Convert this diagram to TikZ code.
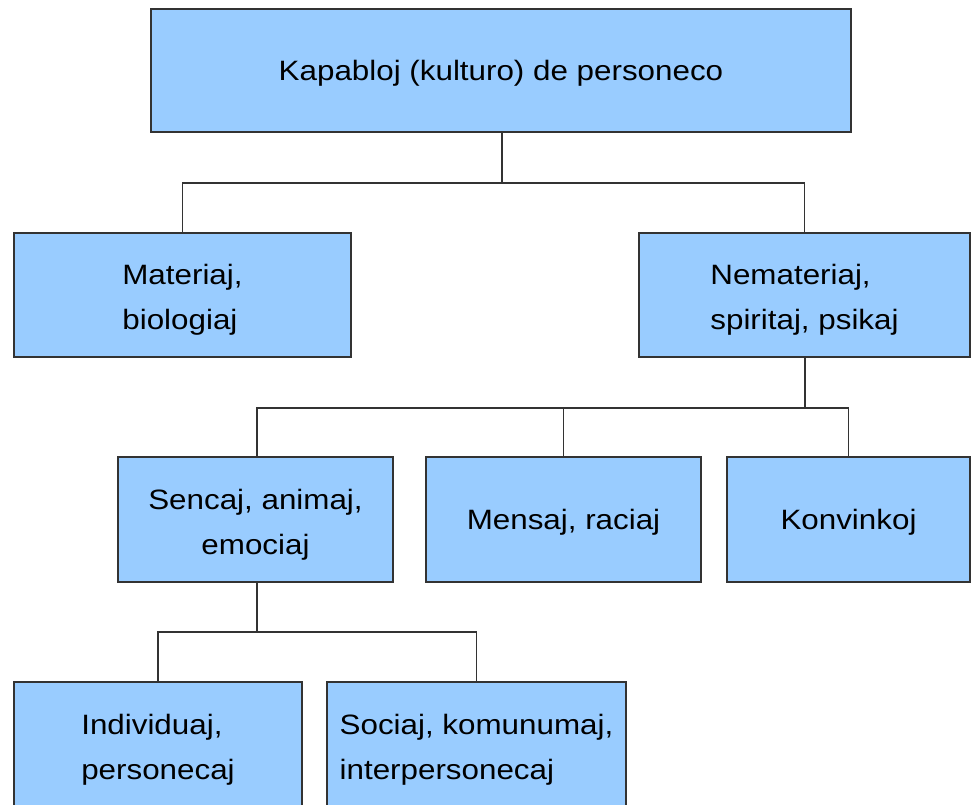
\documentclass[tikz,border=0pt]{standalone}
\usepackage{fontspec}
\setmainfont[FakeStretch=1.12]{Liberation Sans}
\definecolor{boxfill}{HTML}{99CCFF}
\definecolor{boxline}{HTML}{333333}
\begin{document}
\begin{tikzpicture}[x=1pt,y=-1pt,
  box/.style={draw=boxline, fill=boxfill, line width=1.2pt, rectangle, inner sep=0pt},
  txt/.style={align=center, inner sep=0pt, font=\fontsize{28}{45}\selectfont},
  ltxt/.style={txt, align=left},
  link/.style={draw=boxline, line width=1.2pt}]
\useasboundingbox (0,0) rectangle (975,805);
\clip (0,0) rectangle (975,805);
\node[box, minimum width=700pt, minimum height=123pt] (top) at (501,70.5) {};
\node[box, minimum width=337pt, minimum height=124pt] (mat) at (182.5,295) {};
\node[box, minimum width=331pt, minimum height=124pt] (nem) at (804.5,295) {};
\node[box, minimum width=275pt, minimum height=125pt] (sen) at (255.5,519.5) {};
\node[box, minimum width=275pt, minimum height=125pt] (men) at (563.5,519.5) {};
\node[box, minimum width=243pt, minimum height=125pt] (kon) at (848.5,519.5) {};
\node[box, minimum width=288pt, minimum height=125pt] (ind) at (158,744.5) {};
\node[box, minimum width=299pt, minimum height=125pt] (soc) at (476.5,744.5) {};
\node[txt] (top-t) at ([yshift=-3pt]top.center) {Kapabloj (kulturo) de personeco};
\node[ltxt] (mat-t) at ([yshift=-5pt]mat.center) {Materiaj,\\biologiaj};
\node[ltxt] (nem-t) at ([yshift=-5pt]nem.center) {Nemateriaj,\\spiritaj, psikaj};
\node[txt] (sen-t) at ([yshift=-5pt]sen.center) {Sencaj, animaj,\\emociaj};
\node[txt] (men-t) at ([yshift=-3pt]men.center) {Mensaj, raciaj};
\node[txt] (kon-t) at ([yshift=-3pt]kon.center) {Konvinkoj};
\node[ltxt] (ind-t) at ([yshift=-5pt]ind.center) {Individuaj,\\personecaj};
\node[ltxt] (soc-t) at ([yshift=-5pt]soc.center) {Sociaj, komunumaj,\\interpersonecaj};
\coordinate (j1) at (502,183);
\coordinate (j2) at (805,408);
\coordinate (j3) at (257,632);
\draw[link] (top.south -| j1) -- (j1);
\draw[link] (j1) -| (mat.north);
\draw[link] (j1) -| (nem.north);
\draw[link] (nem.south -| j2) -- (j2);
\draw[link] (j2) -| (sen.north -| j3);
\draw[link] (j2) -| (men.north);
\draw[link] (j2) -| (kon.north);
\draw[link] (sen.south -| j3) -- (j3);
\draw[link] (j3) -| (ind.north);
\draw[link] (j3) -| (soc.north);
\end{tikzpicture}
\end{document}
